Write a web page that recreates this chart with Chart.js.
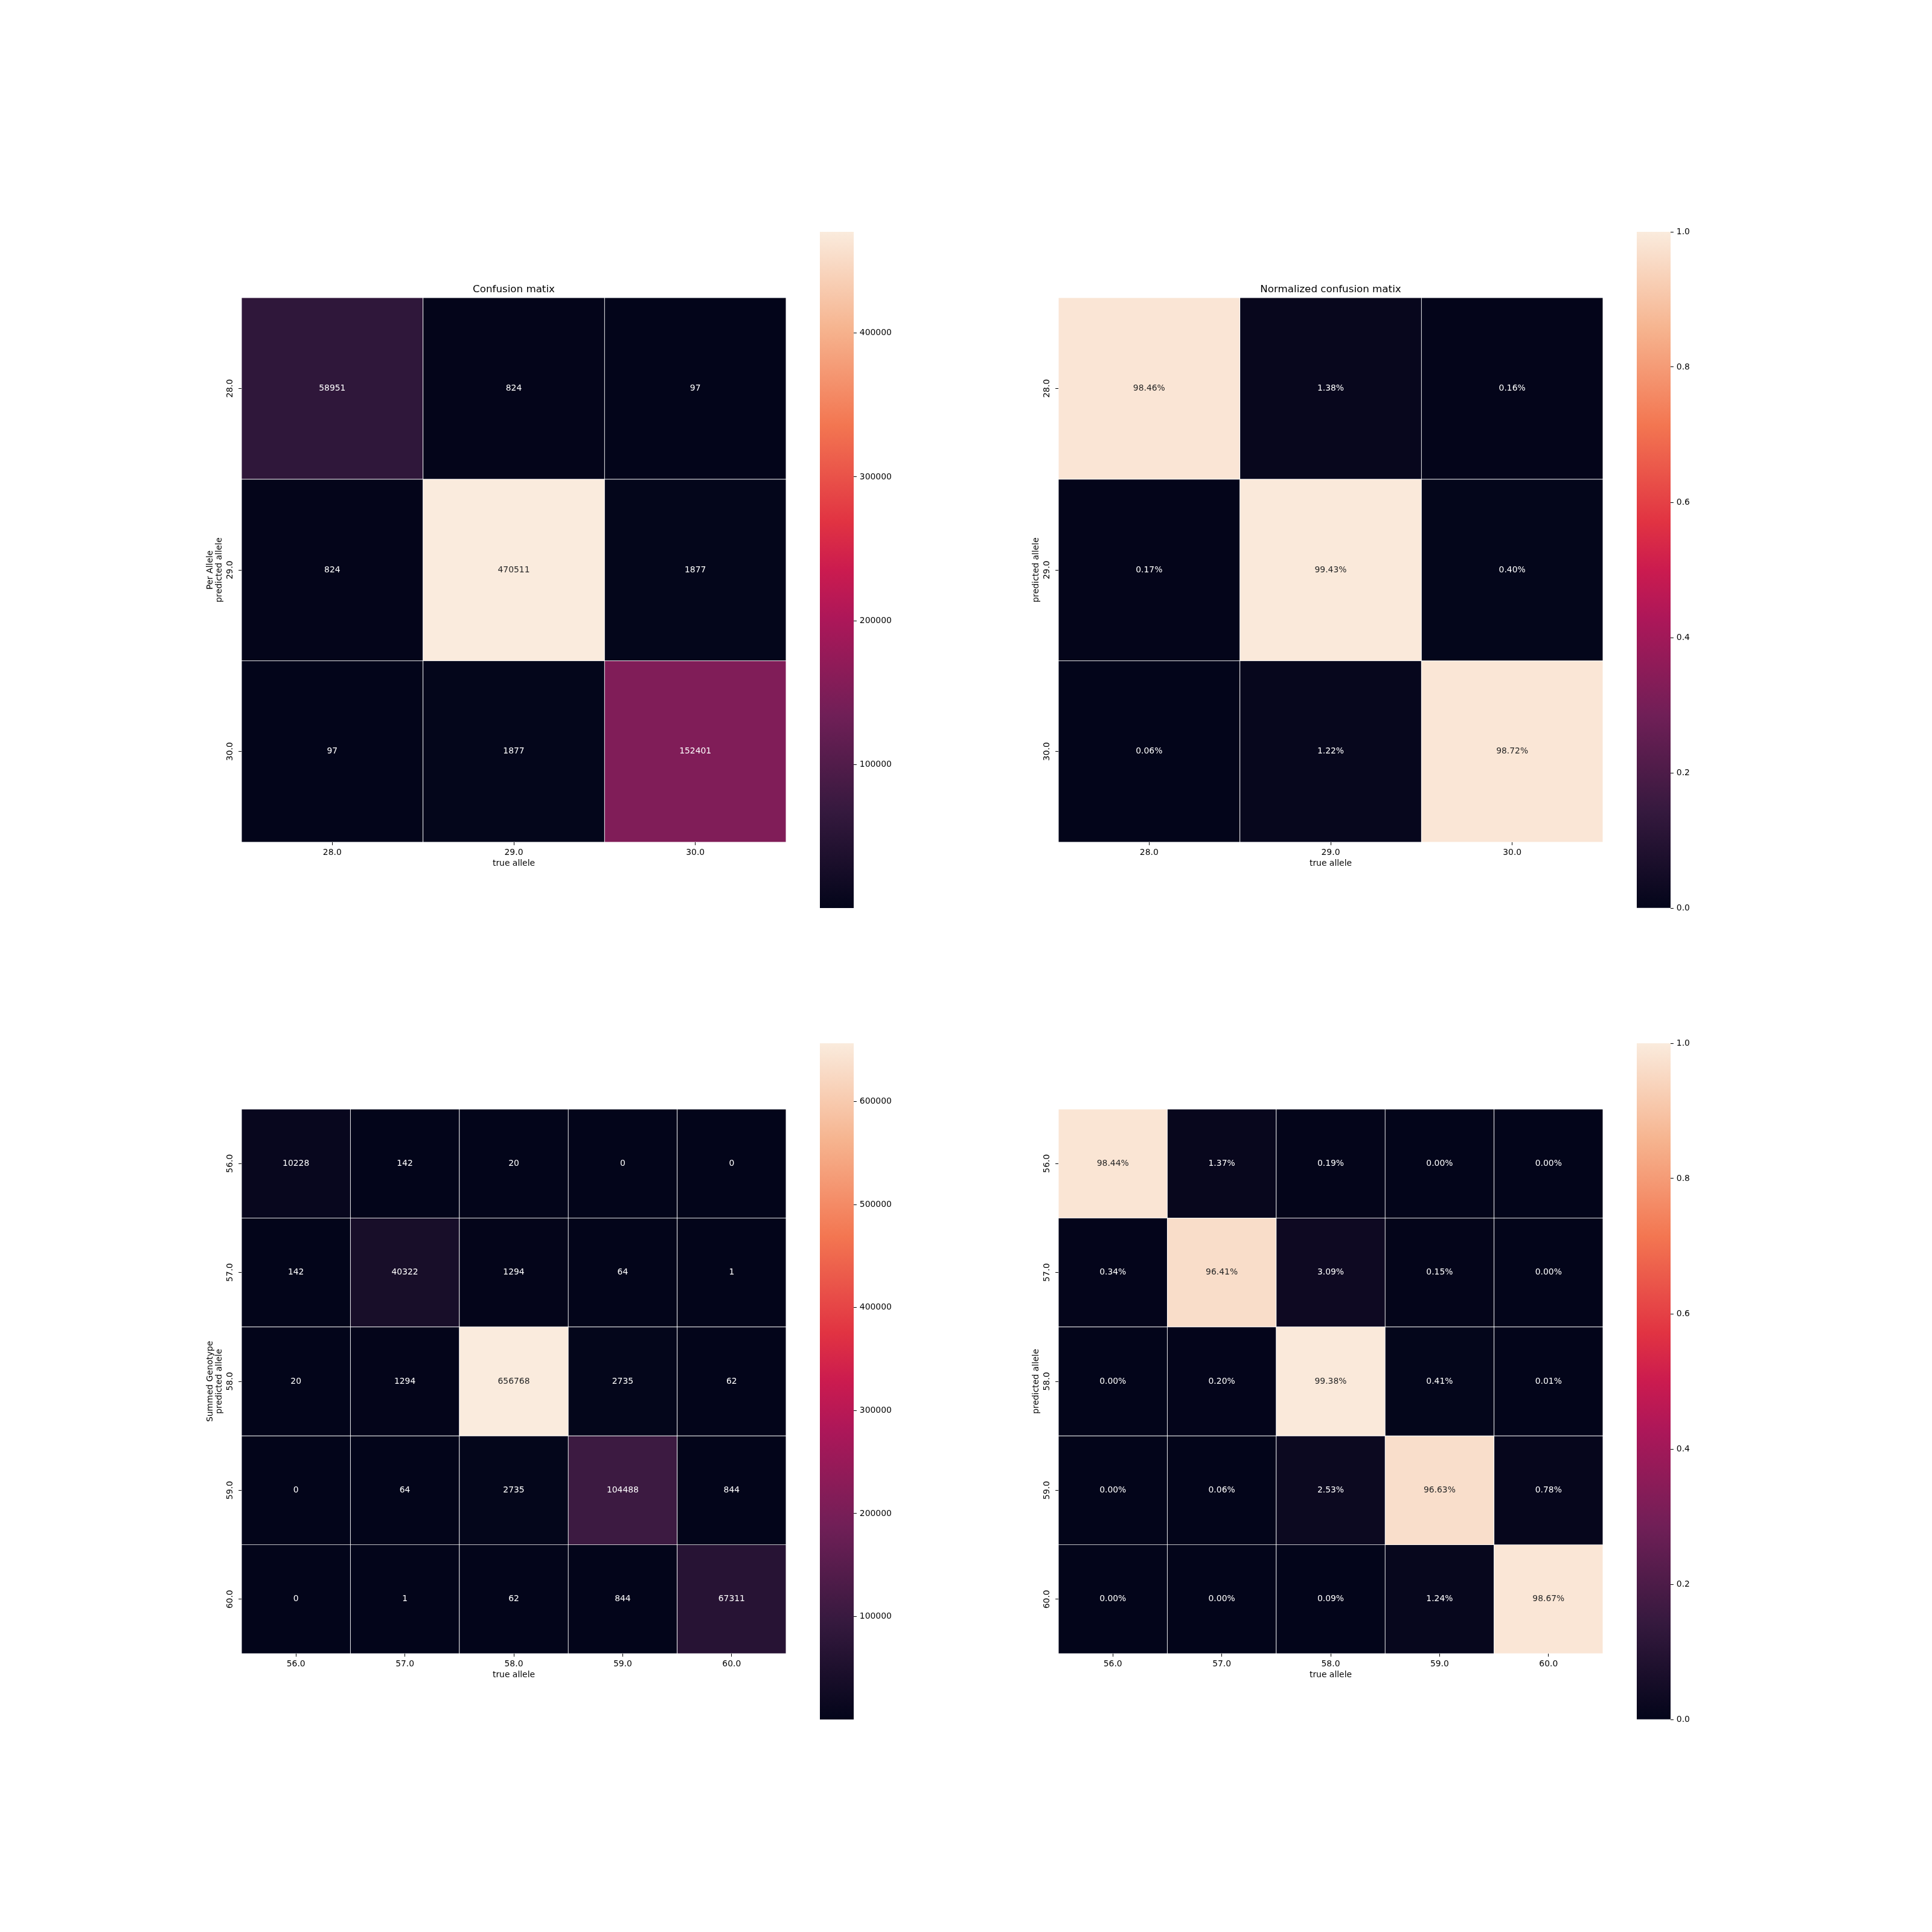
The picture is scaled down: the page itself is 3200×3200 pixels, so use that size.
<!DOCTYPE html>
<html>
<head>
<meta charset="utf-8">
<script src="https://cdn.jsdelivr.net/npm/chart.js@4"></script>
<style>
  html, body { margin: 0; padding: 0; background: #ffffff; }
  #fig { position: relative; width: 3200px; height: 3200px; background: #ffffff; overflow: hidden; }
  #fig canvas { position: absolute; }
</style>
</head>
<body>
<div id="fig"></div>
<script>
// ---------------- data ----------------
const perAlleleLabels = ["28.0", "29.0", "30.0"];
const perAlleleCounts = [
  [58951, 824, 97],
  [824, 470511, 1877],
  [97, 1877, 152401]
];
const perAlleleNorm = [
  [0.9846, 0.0138, 0.0016],
  [0.0017, 0.9943, 0.0040],
  [0.0006, 0.0122, 0.9872]
];
const summedLabels = ["56.0", "57.0", "58.0", "59.0", "60.0"];
const summedCounts = [
  [10228, 142, 20, 0, 0],
  [142, 40322, 1294, 64, 1],
  [20, 1294, 656768, 2735, 62],
  [0, 64, 2735, 104488, 844],
  [0, 1, 62, 844, 67311]
];
const summedNorm = [
  [0.9844, 0.0137, 0.0019, 0.0000, 0.0000],
  [0.0034, 0.9641, 0.0309, 0.0015, 0.0000],
  [0.0000, 0.0020, 0.9938, 0.0041, 0.0001],
  [0.0000, 0.0006, 0.0253, 0.9663, 0.0078],
  [0.0000, 0.0000, 0.0009, 0.0124, 0.9867]
];
const perAlleleCountTicks = [100000, 200000, 300000, 400000];
const summedCountTicks = [100000, 200000, 300000, 400000, 500000, 600000];
const normTicks = [0.0, 0.2, 0.4, 0.6, 0.8, 1.0];
const titles = ["Confusion matix", "Normalized confusion matix"];
const xTitle = "true allele";
const yTitlePerAllele = ["Per Allele", "predicted allele"];
const yTitleSummed = ["Summed Genotype", "predicted allele"];
const yTitlePlain = ["predicted allele"];

// ---------------- colormap (rocket) ----------------
const rocketStops = [
  [0.0, [3, 5, 26]],
  [1 / 7, [53, 25, 62]],
  [2 / 7, [112, 31, 87]],
  [3 / 7, [173, 23, 89]],
  [0.5, [203, 27, 79]],
  [4 / 7, [225, 51, 66]],
  [5 / 7, [243, 118, 81]],
  [6 / 7, [246, 180, 143]],
  [1.0, [250, 235, 221]]
];
function rocket(t) {
  t = Math.max(0, Math.min(1, t));
  for (let i = 1; i < rocketStops.length; i++) {
    const [p1, c1] = rocketStops[i];
    const [p0, c0] = rocketStops[i - 1];
    if (t <= p1) {
      const f = (t - p0) / (p1 - p0);
      return c0.map((v, k) => Math.round(v + (c1[k] - v) * f));
    }
  }
  return rocketStops[rocketStops.length - 1][1];
}
const rgbStr = c => `rgb(${c[0]},${c[1]},${c[2]})`;
function luminance(c) {
  const l = c.map(v => { v /= 255; return v <= 0.03928 ? v / 12.92 : Math.pow((v + 0.055) / 1.055, 2.4); });
  return 0.2126 * l[0] + 0.7152 * l[1] + 0.0722 * l[2];
}

Chart.defaults.font.family = "'DejaVu Sans'";
Chart.defaults.font.size = 13.9;
Chart.defaults.color = '#000';

const cellTextPlugin = {
  id: 'cellText',
  afterDatasetsDraw(chart, args, opts) {
    const {ctx} = chart;
    const xs = chart.scales.x, ys = chart.scales.y;
    ctx.save();
    ctx.font = "13.9px 'DejaVu Sans'";
    ctx.textAlign = 'center';
    ctx.textBaseline = 'middle';
    opts.values.forEach((row, r) => {
      row.forEach((v, c) => {
        const col = rocket((v - opts.vmin) / (opts.vmax - opts.vmin));
        ctx.fillStyle = luminance(col) > 0.408 ? '#262626' : '#ffffff';
        const txt = opts.pct ? (v * 100).toFixed(2) + '%' : String(v);
        ctx.fillText(txt, xs.getPixelForValue(c), ys.getPixelForValue(r));
      });
    });
    ctx.restore();
  }
};

const fig = document.getElementById('fig');
function addCanvas(left, top, w, h) {
  const cv = document.createElement('canvas');
  cv.width = w; cv.height = h;
  cv.style.left = left + 'px'; cv.style.top = top + 'px';
  cv.style.width = w + 'px'; cv.style.height = h + 'px';
  fig.appendChild(cv);
  return cv;
}

const HEAT = 902, AXW = 160, AXH = 100, TOPPAD = 80, RPAD = 20;

function heatmap(hx, hy, labels, values, vmin, vmax, pct, title, yTitle) {
  const cv = addCanvas(hx - AXW, hy - TOPPAD, AXW + HEAT + RPAD, TOPPAD + HEAT + AXH);
  const datasets = labels.map((_, r) => ({
    data: labels.map(() => [r - 0.5, r + 0.5]),
    backgroundColor: values[r].map(v => rgbStr(rocket((v - vmin) / (vmax - vmin)))),
    borderColor: '#ffffff',
    borderWidth: 0.8,
    borderSkipped: false,
    grouped: false,
    barPercentage: 1,
    categoryPercentage: 1
  }));
  const yPad = yTitle.length > 1 ? 100.4 : 116;
  new Chart(cv, {
    type: 'bar',
    data: {labels: labels, datasets: datasets},
    plugins: [cellTextPlugin],
    options: {
      responsive: false, animation: false, events: [],
      devicePixelRatio: 1,
      layout: {padding: {top: title ? 0 : TOPPAD, right: RPAD, left: 0, bottom: 0}},
      plugins: {
        legend: {display: false},
        tooltip: {enabled: false},
        title: {display: !!title, text: title || '', color: '#000', fullSize: false,
                font: {size: 16.7, weight: 'normal'}, padding: {top: 57, bottom: 3}},
        cellText: {values: values, vmin: vmin, vmax: vmax, pct: pct}
      },
      scales: {
        x: {
          type: 'category',
          offset: true,
          grid: {drawOnChartArea: false, drawTicks: true, tickLength: 4.9, color: '#000', lineWidth: 1, offset: false},
          border: {display: false},
          ticks: {padding: 3.9, color: '#000', maxRotation: 0, autoSkip: false, font: {size: 13.9}},
          title: {display: true, text: xTitle, color: '#000', font: {size: 13.9}, padding: {top: 0, bottom: 55.9}},
          afterFit: s => { s.height = AXH; }
        },
        y: {
          type: 'linear',
          min: -0.5, max: labels.length - 0.5,
          reverse: true,
          afterBuildTicks: s => { s.ticks = labels.map((_, i) => ({value: i})); },
          grid: {drawOnChartArea: false, drawTicks: true, tickLength: 4.9, color: '#000', lineWidth: 1},
          border: {display: false},
          ticks: {callback: v => labels[v], padding: -2.25, color: '#000', minRotation: 90, maxRotation: 90,
                  crossAlign: 'center', autoSkip: false, font: {size: 13.9}},
          title: {display: true, text: yTitle, color: '#000', font: {size: 13.9, lineHeight: '15.6px'},
                  padding: {top: yPad, bottom: 0}},
          afterFit: s => { s.width = AXW; }
        }
      }
    }
  });
}

function colorbar(cx, cy, vmin, vmax, tickVals, fmt) {
  const CW = 56, CH = 1120, PADV = 20, AW = 120;
  const cv = addCanvas(cx, cy - PADV, CW + AW, CH + 2 * PADV);
  new Chart(cv, {
    type: 'bar',
    data: {
      labels: [''],
      datasets: [{
        data: [[vmin, vmax]],
        backgroundColor: (ctx) => {
          const chart = ctx.chart;
          if (!chart.chartArea) return '#000';
          const ys = chart.scales.y;
          const g = chart.ctx.createLinearGradient(0, ys.getPixelForValue(vmin), 0, ys.getPixelForValue(vmax));
          rocketStops.forEach(([p, c]) => g.addColorStop(p, rgbStr(c)));
          return g;
        },
        borderWidth: 0,
        barPercentage: 1,
        categoryPercentage: 1
      }]
    },
    options: {
      responsive: false, animation: false, events: [],
      devicePixelRatio: 1,
      layout: {padding: {top: PADV, bottom: PADV, left: 0, right: 0}},
      plugins: {legend: {display: false}, tooltip: {enabled: false}, title: {display: false}},
      scales: {
        x: {display: false, offset: true},
        y: {
          type: 'linear', position: 'right', min: vmin, max: vmax,
          afterBuildTicks: s => { s.ticks = tickVals.map(v => ({value: v})); },
          grid: {drawOnChartArea: false, drawTicks: true, tickLength: 4.9, color: '#000', lineWidth: 1},
          border: {display: false},
          ticks: {callback: v => fmt(v), padding: 4.9, color: '#000', autoSkip: false, font: {size: 13.9}},
          afterFit: s => { s.width = AW; }
        }
      }
    }
  });
}

const fmtInt = v => String(Math.round(v));
const fmtOne = v => v.toFixed(1);

// top-left: counts per allele
heatmap(400, 493, perAlleleLabels, perAlleleCounts, 97, 470511, false, titles[0], yTitlePerAllele);
colorbar(1358, 384, 97, 470511, perAlleleCountTicks, fmtInt);
// top-right: normalized per allele
heatmap(1753, 493, perAlleleLabels, perAlleleNorm, 0, 1, true, titles[1], yTitlePlain);
colorbar(2711, 384, 0, 1, normTicks, fmtOne);
// bottom-left: summed genotype counts
heatmap(400, 1837, summedLabels, summedCounts, 0, 656768, false, null, yTitleSummed);
colorbar(1358, 1728, 0, 656768, summedCountTicks, fmtInt);
// bottom-right: summed genotype normalized
heatmap(1753, 1837, summedLabels, summedNorm, 0, 1, true, null, yTitlePlain);
colorbar(2711, 1728, 0, 1, normTicks, fmtOne);
</script>
</body>
</html>
